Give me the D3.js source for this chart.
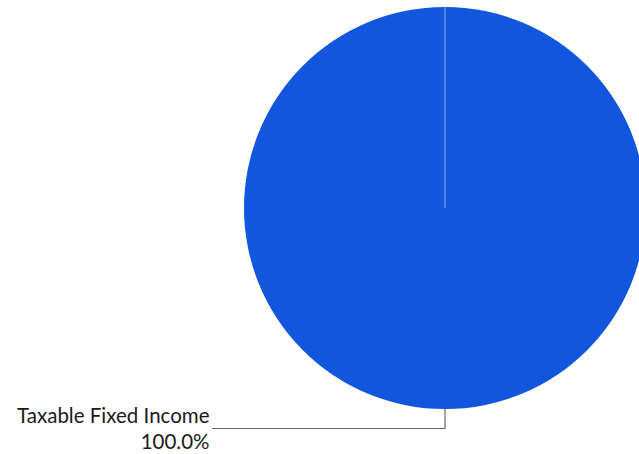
<!DOCTYPE html>
<html>
<head>
<meta charset="utf-8">
<script src="https://cdn.jsdelivr.net/npm/d3@7"></script>
<style>
  body { margin: 0; background: #fff; }
  text { font-family: Lato, "Open Sans", sans-serif; }
</style>
</head>
<body>
<svg width="639" height="454"></svg>
<script>
const categories = ["Taxable Fixed Income"];
const values = [100.0];
const colors = ["#1156dd"];

const svg = d3.select("svg");
const cx = 445, cy = 208, radius = 201;

const pie = d3.pie().sort(null).value((d) => d.value);
const arcs = pie(categories.map((c, i) => ({ name: c, value: values[i], color: colors[i] })));
const arc = d3.arc().innerRadius(0).outerRadius(radius);

const g = svg.append("g").attr("transform", `translate(${cx},${cy})`);

g.selectAll("path.slice")
  .data(arcs)
  .join("path")
  .attr("class", "slice")
  .attr("d", arc)
  .attr("fill", (d) => d.data.color);

// slice borders along the radius
g.selectAll("line.border")
  .data(arcs)
  .join("line")
  .attr("class", "border")
  .attr("x1", 0)
  .attr("y1", 0)
  .attr("x2", (d) => radius * Math.sin(d.startAngle))
  .attr("y2", (d) => -radius * Math.cos(d.startAngle))
  .attr("stroke", "rgba(255,255,255,0.45)")
  .attr("stroke-width", 1.2);

// leader line and labels
const labelX = 209.5;
const elbowY = 428.5;

arcs.forEach((d) => {
  const mid = (d.startAngle + d.endAngle) / 2;
  const px = cx + radius * Math.sin(mid);
  const py = cy - radius * Math.cos(mid);

  svg.append("path")
    .attr("d", `M${px},${py} L${px},${elbowY} L${labelX + 2.5},${elbowY}`)
    .attr("fill", "none")
    .attr("stroke", "#666")
    .attr("stroke-width", 1.2);

  svg.append("text")
    .attr("x", labelX)
    .attr("y", 423)
    .attr("text-anchor", "end")
    .attr("font-size", "20.5px")
    .attr("fill", "#1a1a1a")
    .text(d.data.name);

  svg.append("text")
    .attr("x", labelX)
    .attr("y", 448.5)
    .attr("text-anchor", "end")
    .attr("font-size", "20.5px")
    .attr("fill", "#1a1a1a")
    .text(d3.format(".1f")(d.data.value) + "%");
});
</script>
</body>
</html>
